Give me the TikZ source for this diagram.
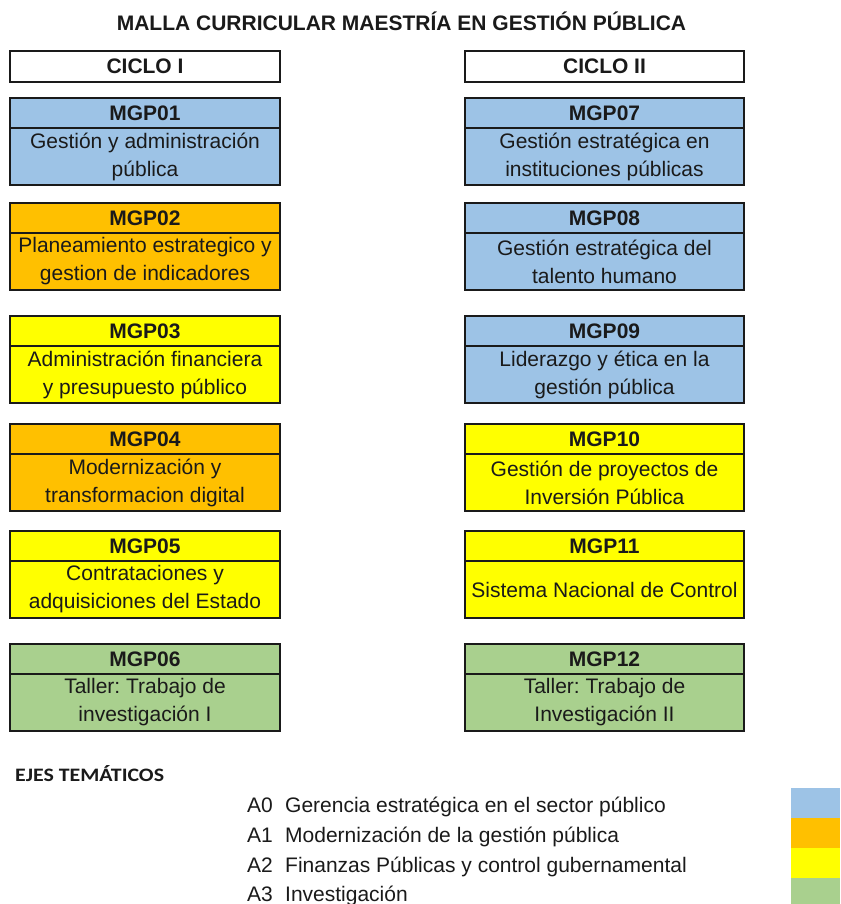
\documentclass[tikz,border=0pt]{standalone}
\usepackage{fontspec}
\setmainfont{Liberation Sans}
\newfontfamily\calfont{Carlito}
\usepackage{graphicx}
\frenchspacing
\definecolor{cblue}{HTML}{9DC3E6}
\definecolor{corange}{HTML}{FFC000}
\definecolor{cyellow}{HTML}{FFFF00}
\definecolor{cgreen}{HTML}{A9D08E}
\definecolor{ink}{HTML}{1A1A1A}
\newcommand\course[6]{%
  \node[hdrbox, minimum width=#3, fill=#4, anchor=north west] (#1h) at #2 {#5};
  \node[bodybox, minimum width=#3, fill=#4, anchor=north] (#1b) at (#1h.south) {#6};
}
\begin{document}
\begin{tikzpicture}[x=1pt, y=-1pt,
  hdrbox/.style={draw=ink, line width=1.6pt, rectangle, outer sep=0pt, inner sep=0pt,
    minimum height=30pt, text=ink, text height=15pt, text depth=0pt,
    font=\fontsize{21}{25}\selectfont\bfseries},
  bodybox/.style={draw=ink, line width=1.6pt, rectangle, outer sep=0pt, inner sep=0pt,
    minimum height=57pt, text=ink, align=center,
    font=\fontsize{21}{28}\selectfont\frenchspacing},
  ciclobox/.style={draw=ink, line width=1.6pt, rectangle, outer sep=0pt, inner sep=0pt,
    minimum height=31pt, text=ink, text height=15pt, text depth=0pt,
    font=\fontsize{21}{25}\selectfont\bfseries},
  legtxt/.style={inner sep=0pt, text=ink, font=\fontsize{21}{25}\selectfont}]
\useasboundingbox (0,0) rectangle (840,904);
\fill[white] (0,0) rectangle (840,904);
% title
\node[inner sep=0pt, anchor=base, text=ink, font=\fontsize{21}{25}\selectfont\bfseries] (title) at (401.5,31) {MALLA CURRICULAR MAESTRÍA EN GESTIÓN PÚBLICA};
% cycles
\node[ciclobox, minimum width=270pt, anchor=north west] (c1) at (10,51) {CICLO I};
\node[ciclobox, minimum width=279pt, anchor=north west] (c2) at (465,51) {CICLO II};
% left column
\course{m1}{(10,98)}{270pt}{cblue}{MGP01}{Gestión y administración\\pública}
\course{m2}{(10,203)}{270pt}{corange}{MGP02}{Planeamiento estrategico y\\gestion de indicadores}
\course{m3}{(10,316)}{270pt}{cyellow}{MGP03}{Administración financiera\\y presupuesto público}
\course{m4}{(10,424)}{270pt}{corange}{MGP04}{Modernización y\\transformacion digital}
\course{m5}{(10,531)}{270pt}{cyellow}{MGP05}{Contrataciones y\\adquisiciones del Estado}
\course{m6}{(10,644)}{270pt}{cgreen}{MGP06}{Taller: Trabajo de\\investigación I}
% right column
\course{m7}{(465,98)}{279pt}{cblue}{MGP07}{Gestión estratégica en\\instituciones públicas}
\course{m8}{(465,203)}{279pt}{cblue}{MGP08}{Gestión estratégica del\\talento humano}
\course{m9}{(465,316)}{279pt}{cblue}{MGP09}{Liderazgo y ética en la\\gestión pública}
\course{m10}{(465,424)}{279pt}{cyellow}{MGP10}{Gestión de proyectos de\\Inversión Pública}
\course{m11}{(465,531)}{279pt}{cyellow}{MGP11}{Sistema Nacional de Control}
\course{m12}{(465,644)}{279pt}{cgreen}{MGP12}{Taller: Trabajo de\\Investigación II}
% legend
\node[inner sep=0pt, anchor=base west, text=ink, font=\fontsize{19}{23}\calfont\bfseries] (ejes) at (15,781) {\scalebox{1.15}[1]{EJES TEMÁTICOS}};
\node[legtxt, anchor=base west] (a0) at (247,812) {A0};
\node[legtxt, anchor=base west] (d0) at (285,812) {Gerencia estratégica en el sector público};
\node[legtxt, anchor=base west] (a1) at (247,842) {A1};
\node[legtxt, anchor=base west] (d1) at (285,842) {Modernización de la gestión pública};
\node[legtxt, anchor=base west] (a2) at (247,872) {A2};
\node[legtxt, anchor=base west] (d2) at (285,872) {Finanzas Públicas y control gubernamental};
\node[legtxt, anchor=base west] (a3) at (247,901) {A3};
\node[legtxt, anchor=base west] (d3) at (285,901) {Investigación};
% swatches
\fill[cblue] (791,788) rectangle (840,818);
\fill[corange] (791,818) rectangle (840,848);
\fill[cyellow] (791,848) rectangle (840,878);
\fill[cgreen] (791,878) rectangle (840,904);
\end{tikzpicture}
\end{document}
